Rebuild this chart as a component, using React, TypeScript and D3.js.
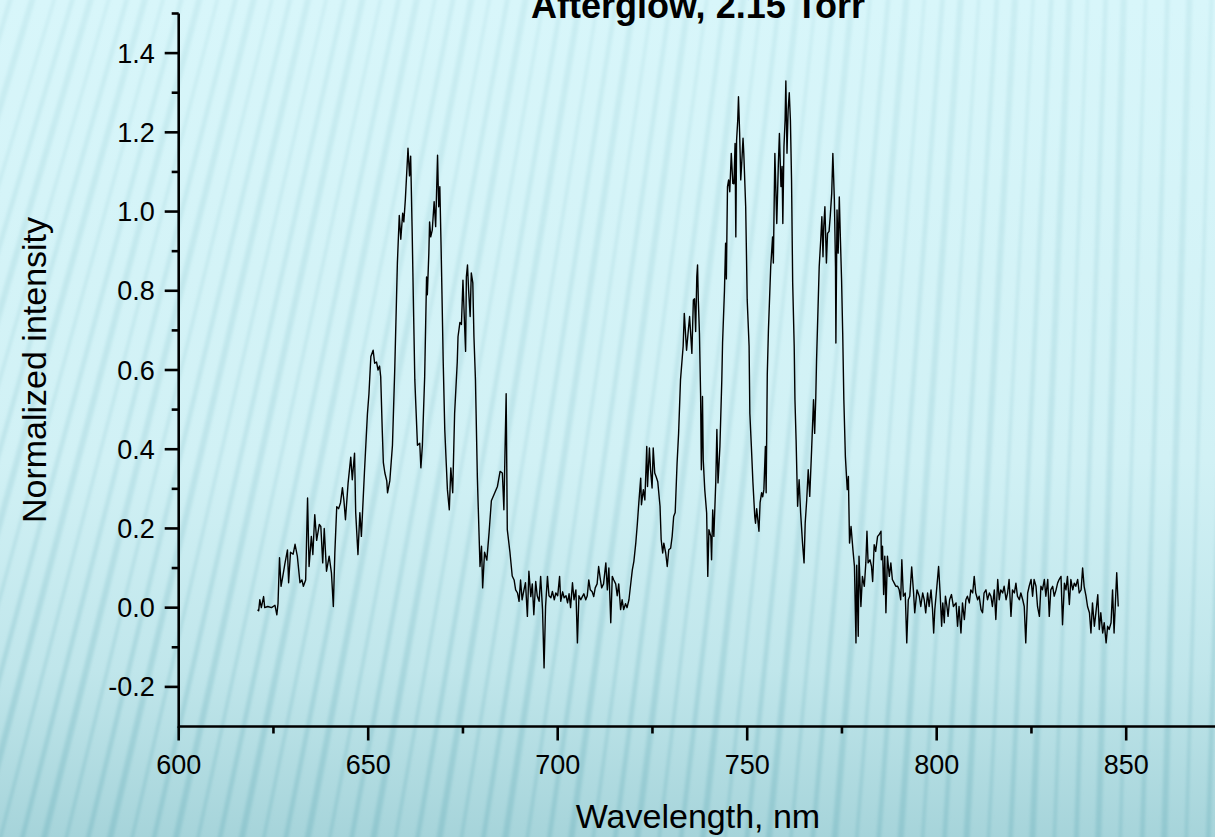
import React from "react";
import * as d3 from "d3";

// ---- Data (wavelength nm, normalized intensity) ----
const band620: [number, number][] = [
  [620.8, -0.005], [621.1, -0.008], [621.4, 0.02], [621.8, 0.0], [622.4, 0.028], [622.7, 0.0],
  [623.5, 0.003], [624.5, 0.0], [625.4, 0.006], [625.9, -0.018], [626.2, 0.01], [626.6, 0.126],
  [627.0, 0.054], [627.4, 0.075], [628.0, 0.11], [628.7, 0.146], [629.0, 0.063], [629.5, 0.14],
  [630.2, 0.135], [630.7, 0.16], [631.3, 0.13], [632.0, 0.063], [632.5, 0.07], [632.9, 0.054],
  [633.5, 0.07], [634.0, 0.277], [634.4, 0.104], [635.0, 0.18], [635.4, 0.134], [635.9, 0.235],
  [636.4, 0.17], [637.1, 0.21], [637.5, 0.205], [638.0, 0.113], [638.4, 0.2], [639.0, 0.092],
  [639.7, 0.13], [640.3, 0.088], [640.8, 0.003], [641.2, 0.139], [641.7, 0.255], [642.2, 0.25],
  [642.7, 0.265], [643.2, 0.303], [643.6, 0.27], [644.0, 0.222], [644.7, 0.315], [645.4, 0.38],
  [645.8, 0.323], [646.4, 0.39], [646.7, 0.24], [647.3, 0.134], [647.8, 0.24], [648.2, 0.18],
  [649.0, 0.34], [649.8, 0.49], [650.2, 0.54], [650.7, 0.634],
];

const band650: [number, number][] = [
  [651.3, 0.65], [651.7, 0.617], [652.2, 0.62], [652.6, 0.6], [653.0, 0.61], [653.3, 0.583],
  [653.7, 0.45], [654.0, 0.366], [654.4, 0.34], [654.9, 0.32], [655.1, 0.29], [655.7, 0.32],
  [656.4, 0.41], [657.0, 0.6], [657.7, 0.87], [658.2, 0.99], [658.6, 0.93], [659.1, 0.996],
  [659.4, 0.974], [659.8, 1.03], [660.5, 1.16], [660.9, 1.09], [661.2, 1.14], [661.6, 0.95],
  [661.9, 0.785], [662.3, 0.575], [663.0, 0.41], [663.6, 0.415], [663.9, 0.353], [664.3, 0.41],
  [664.9, 0.583], [665.4, 0.835], [665.6, 0.79], [666.0, 0.895], [666.2, 0.974], [666.5, 0.936],
  [666.9, 0.953], [667.4, 1.025], [667.8, 0.962], [668.3, 1.142], [668.6, 1.012], [668.9, 1.063],
  [669.3, 0.878], [669.8, 0.617], [670.2, 0.45], [670.9, 0.298], [671.4, 0.247], [671.8, 0.353],
  [672.3, 0.29], [672.8, 0.49], [673.5, 0.62], [673.7, 0.684], [674.2, 0.72], [674.6, 0.715],
  [675.0, 0.827], [675.4, 0.72], [675.7, 0.647], [675.9, 0.835], [676.2, 0.865], [676.5, 0.8],
  [676.9, 0.735], [677.2, 0.845], [677.6, 0.82], [677.9, 0.684], [678.3, 0.575], [678.8, 0.33],
  [679.5, 0.104], [679.9, 0.155], [680.2, 0.05], [680.7, 0.14], [681.3, 0.12], [681.9, 0.19],
  [682.5, 0.27], [683.4, 0.29], [684.1, 0.306], [684.8, 0.344], [685.4, 0.34], [685.8, 0.247],
  [686.4, 0.54], [686.7, 0.197], [687.4, 0.14], [688.0, 0.08], [688.5, 0.07], [688.9, 0.045],
  [689.4, 0.037], [689.8, 0.016],
];

const band690: [number, number][] = [
  [690.2, 0.07], [690.6, 0.02], [691.1, 0.045], [691.5, 0.063], [692.0, -0.022], [692.4, 0.092],
  [692.9, 0.028], [693.3, 0.06], [693.7, -0.018], [694.2, 0.066], [694.6, 0.03], [695.1, 0.016],
  [695.5, 0.079], [696.0, -0.005], [696.4, -0.152], [696.8, 0.003], [697.3, 0.079], [697.7, 0.03],
  [698.2, 0.025], [698.6, 0.041], [699.1, 0.02], [699.5, 0.037], [700.0, 0.03], [700.5, 0.079],
  [700.8, 0.016], [701.3, 0.04], [701.7, 0.025], [702.2, 0.03], [702.6, 0.012], [703.0, 0.035],
  [703.4, 0.0], [703.9, 0.063], [704.3, 0.02], [704.8, 0.045], [705.2, -0.089], [705.6, 0.03],
  [706.1, 0.02], [706.5, 0.028], [706.9, 0.035], [707.4, 0.02], [707.8, 0.03], [708.2, 0.07],
  [708.6, 0.045], [709.1, 0.04], [709.5, 0.028], [709.9, 0.05], [710.4, 0.06], [710.8, 0.104],
  [711.2, 0.075], [711.6, 0.05], [712.1, 0.06], [712.7, 0.113], [713.1, 0.045], [713.5, 0.1],
  [714.0, -0.038], [714.4, 0.079], [714.8, 0.07], [715.3, 0.06], [715.7, 0.03], [716.1, 0.06],
  [716.6, -0.005], [717.0, 0.02], [717.4, -0.005], [717.9, 0.01], [718.3, 0.0], [718.8, 0.02],
  [719.3, 0.063], [719.7, 0.096], [720.1, 0.117], [720.6, 0.163],
];

const band720: [number, number][] = [
  [721.0, 0.21], [721.4, 0.264], [721.9, 0.327], [722.1, 0.26], [722.6, 0.298], [723.0, 0.272],
  [723.5, 0.407], [723.7, 0.306], [724.2, 0.403], [724.5, 0.348], [724.9, 0.302], [725.2, 0.403],
  [725.6, 0.34], [726.0, 0.33], [726.4, 0.318], [727.0, 0.256], [727.3, 0.172], [727.7, 0.138],
  [728.0, 0.163], [728.5, 0.138], [728.9, 0.104], [729.3, 0.146], [729.8, 0.15], [730.2, 0.18],
  [730.6, 0.23], [731.0, 0.24], [731.5, 0.365], [731.9, 0.44], [732.4, 0.575], [733.1, 0.66],
  [733.4, 0.743], [734.0, 0.65], [734.4, 0.693], [734.8, 0.735], [735.4, 0.642], [735.8, 0.777],
  [736.1, 0.78], [736.4, 0.697], [736.7, 0.835], [736.9, 0.865], [737.1, 0.777], [737.4, 0.693],
  [737.7, 0.541], [737.9, 0.348], [738.2, 0.533], [738.4, 0.373], [738.8, 0.298], [739.3, 0.239],
  [739.6, 0.079], [739.9, 0.197], [740.4, 0.18], [740.6, 0.121], [740.9, 0.247], [741.2, 0.18],
  [741.7, 0.315], [742.0, 0.45], [742.3, 0.315], [742.8, 0.407], [743.3, 0.575], [743.5, 0.668],
  [744.0, 0.8], [744.3, 0.92], [744.5, 0.83], [744.8, 1.063], [745.1, 1.08], [745.4, 1.05],
  [745.8, 1.147], [746.2, 1.071], [746.5, 1.07], [746.8, 1.172], [747.0, 0.936], [747.2, 1.18],
  [747.5, 1.23], [747.7, 1.29], [748.0, 1.2], [748.3, 1.08], [748.6, 1.13], [748.9, 1.185],
  [749.1, 1.147], [749.6, 1.012], [750.0, 0.777], [750.5, 0.66], [750.7, 0.49], [751.1, 0.407],
  [751.5, 0.318], [752.0, 0.23], [752.2, 0.213], [752.5, 0.25], [752.8, 0.222], [753.1, 0.193],
  [753.4, 0.265], [753.8, 0.29], [754.1, 0.28], [754.4, 0.298], [754.8, 0.407], [755.0, 0.29],
  [755.3, 0.59], [755.6, 0.7], [756.2, 0.86], [756.7, 0.936], [756.9, 0.87], [757.3, 1.147],
  [757.8, 0.97], [758.2, 1.114], [758.5, 1.197], [758.9, 1.063], [759.2, 1.114], [759.4, 0.97],
  [759.7, 1.164], [760.0, 1.231], [760.2, 1.33], [760.5, 1.147], [760.8, 1.256], [761.1, 1.3],
  [761.4, 1.231], [761.7, 1.08], [762.0, 0.82], [762.4, 0.66], [762.6, 0.525], [762.9, 0.424],
  [763.3, 0.256], [763.7, 0.323], [764.1, 0.239], [764.6, 0.163], [765.0, 0.113], [765.3, 0.213],
  [765.7, 0.272], [766.1, 0.348], [766.5, 0.281], [767.0, 0.4], [767.5, 0.525], [767.8, 0.44],
  [768.1, 0.533], [768.3, 0.625], [768.7, 0.76], [769.0, 0.861], [769.4, 0.928], [769.7, 0.987],
  [770.0, 0.886], [770.2, 0.962], [770.5, 1.012], [770.9, 0.87], [771.2, 0.945], [771.6, 0.95],
  [771.9, 0.987], [772.3, 1.046], [772.6, 1.147], [773.0, 1.029], [773.3, 0.861], [773.4, 0.668],
  [773.7, 1.004], [774.0, 0.895], [774.3, 1.037], [774.6, 0.928], [774.9, 0.827], [775.2, 0.693],
  [775.5, 0.525], [775.9, 0.382], [776.4, 0.298], [776.7, 0.331], [777.0, 0.163], [777.4, 0.205],
  [777.9, 0.146], [778.3, 0.104], [778.7, -0.089], [778.9, 0.107], [779.3, -0.072], [779.5, 0.13],
];

const band780: [number, number][] = [
  [780.0, 0.003], [780.4, 0.079], [780.9, 0.054], [781.3, 0.113], [781.6, 0.193], [781.9, 0.113],
  [782.4, 0.121], [782.8, 0.104], [783.1, 0.066], [783.5, 0.159], [783.9, 0.142], [784.4, 0.18],
  [784.8, 0.184], [785.3, 0.193], [785.4, 0.121], [785.7, 0.155], [786.0, 0.033], [786.3, 0.13],
  [786.6, -0.013], [787.0, 0.13], [787.5, 0.079], [787.9, 0.113], [788.3, 0.071], [788.8, 0.062],
  [789.2, 0.054], [789.7, 0.054], [790.1, 0.045], [790.5, 0.02], [790.8, 0.121], [791.2, 0.029],
  [791.7, 0.037], [792.1, -0.089], [792.5, 0.02], [792.9, 0.029], [793.4, 0.103], [793.9, 0.037],
  [794.2, -0.013], [794.8, 0.045], [795.4, 0.029], [795.8, 0.003], [796.3, 0.037], [796.7, 0.02],
  [797.1, -0.013], [797.6, 0.037], [798.0, 0.003], [798.5, 0.045], [798.9, -0.005], [799.2, -0.064],
  [799.5, -0.005], [799.9, 0.037], [800.5, 0.104], [800.9, 0.037], [801.3, -0.047], [801.6, 0.012],
  [802.0, -0.038], [802.3, 0.029], [802.7, 0.003], [803.0, -0.022], [803.4, 0.02], [803.9, 0.033],
  [804.4, 0.003], [805.1, 0.012], [805.5, -0.047], [805.9, 0.003], [806.4, -0.064], [806.8, 0.012],
  [807.3, -0.03], [807.7, 0.02], [808.1, 0.029], [808.6, 0.012], [809.0, 0.045], [809.5, 0.037],
  [809.9, 0.079], [810.3, 0.037], [810.8, 0.02], [811.2, 0.029], [811.7, -0.005], [812.1, -0.013],
  [812.5, 0.037], [813.0, 0.045], [813.4, 0.02], [813.9, 0.037], [814.3, 0.029], [814.7, 0.003],
  [815.2, 0.045], [815.6, -0.03], [816.1, 0.071], [816.5, 0.02], [816.9, 0.045], [817.4, 0.037],
  [817.8, 0.054], [818.3, 0.02], [818.7, 0.037], [819.1, 0.071], [819.6, -0.022], [820.0, 0.045],
  [820.5, 0.037], [820.9, 0.062], [821.3, 0.029], [821.8, 0.02], [822.2, 0.037], [822.7, 0.02],
  [823.1, 0.003], [823.5, -0.089], [824.0, 0.037], [824.4, 0.054], [824.9, 0.071], [825.3, 0.029],
  [825.7, 0.071], [826.2, 0.054], [826.6, 0.003], [827.1, -0.022], [827.5, 0.054], [827.9, 0.045],
  [828.4, 0.071], [828.8, 0.029], [829.3, 0.071], [829.7, -0.022], [830.1, 0.045], [830.6, 0.054],
  [831.0, 0.029], [831.5, 0.045], [831.9, 0.062], [832.3, 0.071], [832.8, 0.079], [833.2, -0.043],
  [833.7, 0.062], [834.1, 0.045], [834.5, 0.079], [835.0, 0.008], [835.4, 0.071], [835.9, 0.045],
  [836.3, 0.062], [836.7, 0.054], [837.2, 0.071], [837.6, 0.037], [838.1, 0.045], [838.5, 0.1],
  [838.9, 0.054], [839.4, 0.029], [839.8, 0.003], [840.3, -0.013], [840.7, -0.064], [841.1, 0.012],
  [841.6, -0.047], [842.0, -0.013], [842.5, 0.033], [842.9, -0.055], [843.3, -0.013], [843.8, -0.064],
  [844.2, -0.038], [844.7, -0.089], [845.1, -0.047], [845.5, -0.055], [846.0, -0.038], [846.4, 0.045],
  [846.8, -0.064], [847.3, 0.045], [847.5, 0.088], [847.9, 0.003],
];

const xMajorTicks = [600, 650, 700, 750, 800, 850];
const xMinorTicks = [625, 675, 725, 775, 825, 875];
const yMajorTicks = [-0.2, 0.0, 0.2, 0.4, 0.6, 0.8, 1.0, 1.2, 1.4];
const yMinorTicks = [-0.1, 0.1, 0.3, 0.5, 0.7, 0.9, 1.1, 1.3, 1.5];

const titleText = "Afterglow, 2.15 Torr";
const xTitle = "Wavelength, nm";
const yTitle = "Normalized intensity";

const W = 1215;
const H = 837;
const FONT = "'Liberation Sans', Arial, Helvetica, sans-serif";

export default function App() {
  const spectrum = [...band620, ...band650, ...band690, ...band720, ...band780];

  const x = d3.scaleLinear().domain([600, 850]).range([178.7, 1126.2]);
  const y = d3.scaleLinear().domain([-0.3, 1.5]).range([726.5, 13.5]);

  const line = d3
    .line<[number, number]>()
    .x((d) => x(d[0]))
    .y((d) => y(d[1]));

  const x0 = x(600);
  const y0 = y(-0.3);

  // decorative background stripes
  const stripes = d3.range(-420, 1300, 22).map((bx, i) => {
    const t = Math.max(0, Math.min(1, (bx + 200) / 1300));
    const tilt = 0.3 - 0.27 * t;
    return { x1: bx, y1: H + 10, x2: bx + tilt * (H + 20), y2: -10, w: i % 3 === 0 ? 6 : i % 3 === 1 ? 3 : 4.5 };
  });

  return (
    <svg
      width={W}
      height={H}
      style={{ position: "absolute", left: 0, top: 0, display: "block" }}
      xmlns="http://www.w3.org/2000/svg"
    >
      <defs>
        <linearGradient id="bg" x1="0" y1="0" x2="0" y2="1">
          <stop offset="0" stopColor="#d8f6fa" />
          <stop offset="0.55" stopColor="#d1f1f5" />
          <stop offset="0.8" stopColor="#c0e6eb" />
          <stop offset="1" stopColor="#a6d4da" />
        </linearGradient>
        <linearGradient id="stripeGrad" gradientUnits="userSpaceOnUse" x1="0" y1="0" x2="0" y2={H}>
          <stop offset="0" stopColor="#a6d7de" stopOpacity="0.28" />
          <stop offset="0.6" stopColor="#98ccd4" stopOpacity="0.36" />
          <stop offset="1" stopColor="#7fbcc5" stopOpacity="0.55" />
        </linearGradient>
        <filter id="blur" x="-10%" y="-10%" width="120%" height="120%">
          <feGaussianBlur stdDeviation="1.8" />
        </filter>
      </defs>

      <rect x={0} y={0} width={W} height={H} fill="url(#bg)" />
      <g filter="url(#blur)">
        {stripes.map((s, i) => (
          <line key={i} x1={s.x1} y1={s.y1} x2={s.x2} y2={s.y2} stroke="url(#stripeGrad)" strokeWidth={s.w} />
        ))}
      </g>

      {/* title (cut off at top as in reference) */}
      <text
        x={698}
        y={18}
        textAnchor="middle"
        fontFamily={FONT}
        fontWeight="bold"
        fontSize={36}
        fill="#000"
      >
        {titleText}
      </text>

      {/* spectrum */}
      <path d={line(spectrum) || ""} fill="none" stroke="#000" strokeWidth={1.4} strokeLinejoin="round" />

      {/* axes */}
      <g stroke="#000" strokeWidth={2.6} fill="none">
        <line x1={x0} y1={y0} x2={W + 20} y2={y0} />
        <line x1={x0} y1={y0 + 1.3} x2={x0} y2={y(1.5)} />
        {xMajorTicks.map((t) => (
          <line key={"xM" + t} x1={x(t)} y1={y0} x2={x(t)} y2={y0 + 14} />
        ))}
        {xMinorTicks.map((t) => (
          <line key={"xm" + t} x1={x(t)} y1={y0} x2={x(t)} y2={y0 + 7} />
        ))}
        {yMajorTicks.map((t) => (
          <line key={"yM" + t} x1={x0} y1={y(t)} x2={x0 - 14} y2={y(t)} />
        ))}
        {yMinorTicks.map((t) => (
          <line key={"ym" + t} x1={x0} y1={y(t)} x2={x0 - 7} y2={y(t)} />
        ))}
      </g>

      <g fontFamily={FONT} fontSize={27} fill="#000">
        {xMajorTicks.map((t) => (
          <text key={"xl" + t} x={x(t)} y={y0 + 47} textAnchor="middle">
            {String(t)}
          </text>
        ))}
        {yMajorTicks.map((t) => (
          <text key={"yl" + t} x={x0 - 24} y={y(t) + 9.5} textAnchor="end">
            {t.toFixed(1)}
          </text>
        ))}
      </g>

      <text x={698} y={828} textAnchor="middle" fontFamily={FONT} fontSize={34} fill="#000">
        {xTitle}
      </text>
      <text
        transform={`translate(46, ${(y(1.5) + y0) / 2}) rotate(-90)`}
        textAnchor="middle"
        fontFamily={FONT}
        fontSize={34}
        fill="#000"
      >
        {yTitle}
      </text>
    </svg>
  );
}
